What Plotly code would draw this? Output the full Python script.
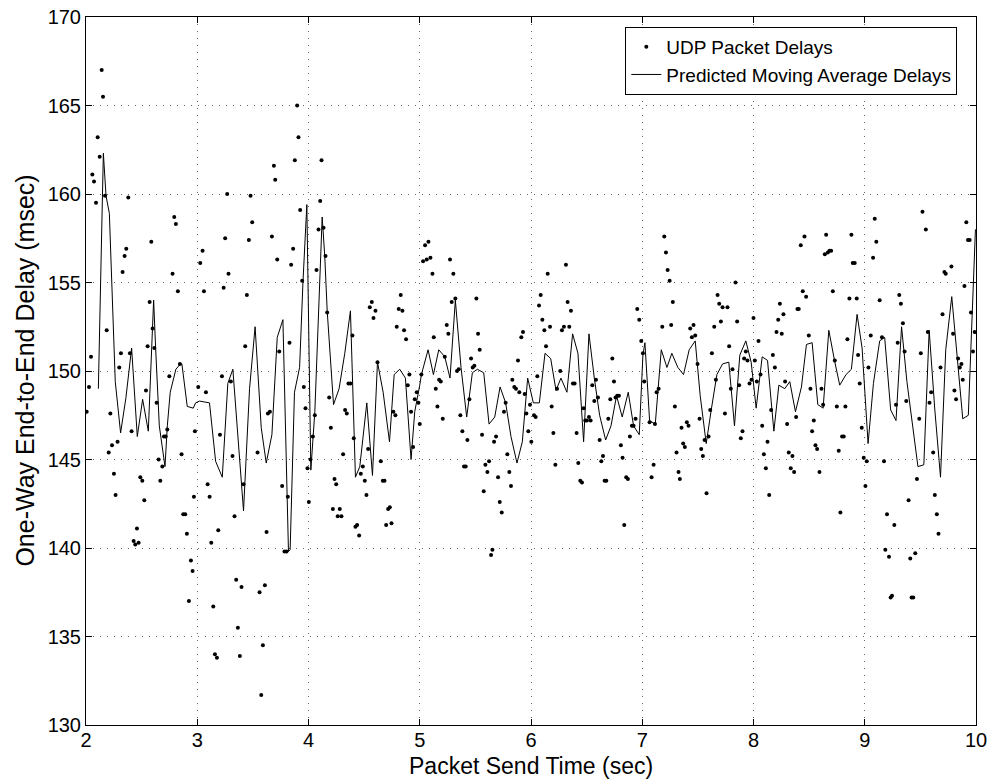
import plotly.graph_objects as go

# UDP packet delays (time sec, delay msec)
dot_t = [2.006,2.027,2.045,2.057,2.072,2.09,2.105,2.123,2.141,2.153,2.171,2.186,2.204,2.219,2.234,2.251,2.266,2.284,2.299,2.314,2.329,2.347,2.362,2.380,2.395,2.410,2.428,2.443,2.458,2.473,2.488,2.506,2.524,2.539,2.554,2.572,2.587,2.599,2.614,2.635,2.653,2.668,2.686,2.701,2.716,2.731,2.749,2.778,2.793,2.808,2.826,2.844,2.859,2.874,2.892,2.907,2.925,2.943,2.958,2.970,2.979,
         3.009,3.027,3.048,3.06,3.078,3.093,3.111,3.126,3.144,3.159,3.177,3.189,3.204,3.222,3.237,3.251,3.269,3.281,3.302,3.317,3.335,3.350,3.365,3.383,3.398,3.416,3.431,3.446,3.464,3.479,3.494,3.542,3.560,3.575,3.590,3.608,3.623,3.635,3.653,3.671,3.689,3.701,3.719,3.737,3.763,3.784,3.802,3.814,3.829,3.844,3.862,3.877,3.898,3.910,3.925,3.943,3.958,3.973,3.991,
         4.003,4.018,4.039,4.057,4.072,4.09,4.105,4.117,4.135,4.153,4.168,4.186,4.201,4.219,4.234,4.249,4.263,4.281,4.296,4.311,4.329,4.344,4.359,4.377,4.395,4.407,4.422,4.437,4.455,4.47,4.488,4.506,4.521,4.536,4.551,4.569,4.584,4.602,4.620,4.65,4.668,4.683,4.698,4.716,4.731,4.746,4.763,4.781,4.793,4.811,4.829,4.844,4.859,4.877,4.892,4.907,4.922,4.940,4.955,4.973,4.988,
         5.0,5.015,5.03,5.048,5.063,5.078,5.096,5.114,5.126,5.144,5.159,5.174,5.189,5.207,5.225,5.243,5.257,5.272,5.287,5.302,5.320,5.335,5.350,5.365,5.383,5.398,5.413,5.428,5.446,5.461,5.476,5.491,5.509,5.524,5.539,5.560,5.575,5.590,5.608,5.623,5.641,5.653,5.668,5.686,5.704,5.719,5.737,5.757,5.772,5.787,5.805,5.820,5.832,5.850,5.865,5.883,5.895,5.913,5.928,5.943,5.958,5.976,5.991,6.003,
         6.027,6.042,6.057,6.072,6.087,6.102,6.120,6.135,6.150,6.171,6.186,6.201,6.219,6.234,6.263,6.278,6.296,6.314,6.329,6.344,6.359,6.377,6.392,6.410,6.425,6.443,6.458,6.473,6.488,6.503,6.521,6.536,6.551,6.569,6.584,6.602,6.617,6.632,6.647,6.662,6.677,6.695,6.713,6.731,6.746,6.760,6.775,6.790,6.808,6.823,6.838,6.856,6.871,6.889,6.907,6.922,6.940,6.955,6.973,6.991,7.006,
         7.018,7.066,7.084,7.102,7.114,7.129,7.147,7.180,7.198,7.213,7.228,7.246,7.260,7.275,7.293,7.308,7.326,7.338,7.353,7.368,7.383,7.401,7.416,7.431,7.446,7.461,7.476,7.497,7.515,7.530,7.545,7.560,7.578,7.596,7.611,7.626,7.647,7.662,7.677,7.692,7.707,7.722,7.743,7.766,7.781,7.796,7.811,7.838,7.853,7.871,7.886,7.901,7.916,7.931,7.946,7.964,7.982,8.0,
         8.012,8.030,8.045,8.063,8.078,8.093,8.111,8.126,8.141,8.159,8.174,8.192,8.207,8.222,8.237,8.254,8.269,8.284,8.302,8.317,8.335,8.350,8.365,8.383,8.395,8.407,8.425,8.443,8.458,8.473,8.497,8.512,8.527,8.542,8.557,8.572,8.593,8.611,8.626,8.641,8.653,8.668,8.683,8.698,8.713,8.731,8.749,8.766,8.781,8.796,8.811,8.826,8.844,8.862,8.880,8.892,8.910,8.928,8.940,8.955,8.973,8.991,9.006,
         9.018,9.033,9.054,9.075,9.090,9.104,9.134,9.155,9.173,9.185,9.200,9.218,9.233,9.245,9.266,9.281,9.296,9.310,9.325,9.343,9.358,9.373,9.394,9.409,9.421,9.436,9.454,9.469,9.490,9.504,9.519,9.549,9.567,9.582,9.597,9.615,9.630,9.648,9.663,9.681,9.699,9.716,9.728,9.779,9.794,9.806,9.821,9.839,9.854,9.869,9.881,9.896,9.913,9.928,9.943,9.955,9.973,9.988]
dot_v = [147.7,149.1,150.8,161.1,160.7,159.5,163.2,162.1,167.0,165.5,159.9,152.3,145.4,147.6,145.8,144.2,143.0,146.0,150.2,151.0,155.6,156.5,156.9,159.8,151.0,146.6,140.4,140.2,141.1,140.3,144.0,143.8,142.7,148.9,151.4,153.9,157.3,152.4,151.3,148.2,145.0,143.8,144.6,146.3,146.3,146.7,149.7,155.5,158.7,158.3,154.5,150.4,145.3,141.9,141.9,140.8,137.0,139.3,138.7,142.9,146.6,
         149.1,156.1,156.8,154.5,148.8,143.6,142.9,140.3,136.7,134.0,133.8,141.0,146.4,149.7,154.7,157.5,160.0,155.5,149.4,145.2,141.8,138.2,135.5,133.9,137.8,143.6,151.4,154.3,157.4,159.9,158.4,145.4,137.5,131.7,134.5,137.9,140.9,147.6,147.7,157.6,161.6,160.8,156.3,151.1,143.5,139.8,139.8,142.9,151.6,156.0,156.9,161.9,165.0,163.2,159.1,155.1,149.1,147.9,144.5,
         142.6,145.0,146.3,147.5,155.7,158.0,159.6,161.9,158.1,156.5,153.3,148.5,146.8,142.2,143.9,143.6,141.8,142.2,141.8,145.3,147.8,147.6,149.3,149.3,152.0,146.2,141.2,141.3,140.7,144.2,144.6,143.8,143.0,145.6,153.6,153.9,153.0,153.4,150.5,144.9,143.8,143.8,141.3,142.2,142.3,141.4,147.7,147.5,152.5,153.5,154.3,153.4,152.3,151.8,149.2,149.8,147.7,145.7,148.4,148.8,148.2,
         147.0,149.8,156.2,157.1,156.3,157.3,156.4,155.5,151.9,149.0,148.0,149.5,149.4,147.3,150.8,152.6,152.1,156.3,153.9,155.5,154.1,150.0,150.1,147.5,146.6,144.6,144.6,146.1,148.4,150.7,150.2,150.3,154.1,152.1,151.2,146.4,143.2,144.7,144.3,144.9,139.6,139.9,146.0,146.3,144.0,142.6,142.0,147.7,148.2,145.3,144.3,143.5,149.5,149.1,149.0,150.6,148.8,151.9,152.2,148.7,147.6,146.6,148.1,146.0,
         147.5,147.4,149.7,153.7,154.3,152.9,152.3,151.4,155.5,152.5,148.0,146.5,144.7,149.0,150.0,152.3,152.5,156.0,153.9,152.5,153.4,149.3,149.3,146.5,144.8,143.8,143.7,147.9,147.2,147.2,147.4,147.2,149.2,148.3,149.5,148.5,146.1,144.9,145.2,143.8,143.8,147.3,148.4,150.7,149.4,148.5,148.6,148.6,145.8,145.1,141.3,144.0,143.9,146.3,146.9,146.9,147.3,153.5,152.9,151.7,151.0,
         149.4,147.1,144.0,144.7,147.0,148.8,149.0,152.5,157.6,156.7,155.7,155.1,152.6,153.9,148.0,145.4,144.3,143.9,146.8,145.9,145.7,147.1,146.9,152.4,151.9,152.6,152.0,150.4,147.3,145.6,145.2,146.1,143.1,146.3,147.8,151.0,152.5,149.5,154.3,153.8,152.8,153.6,147.6,153.6,151.4,149.0,150.1,155.0,152.8,149.2,146.2,146.6,150.7,151.1,150.6,149.3,149.5,153.0,
         150.6,149.4,151.7,149.8,146.9,145.3,144.5,146.0,143.0,147.8,150.9,150.2,152.2,152.9,153.8,152.1,153.2,149.4,147.0,145.4,144.5,145.2,144.3,147.4,153.5,153.5,157.1,154.5,157.6,154.2,152.0,149.0,146.6,147.2,145.8,145.6,144.3,149.0,148.1,156.6,157.7,156.7,156.8,156.8,154.5,150.6,148.0,145.5,142.0,146.3,146.3,148.0,151.8,154.1,157.7,156.1,156.1,154.1,150.9,149.3,146.8,145.1,143.5,
         144.9,150.2,152.0,156.4,158.6,157.3,154.0,151.9,144.9,139.9,141.9,139.5,137.2,137.3,141.3,148.1,151.6,154.3,153.8,152.7,151.1,148.3,142.7,139.4,137.2,137.2,139.7,143.9,147.3,151.0,159.0,158.0,152.2,148.2,148.8,145.4,143.0,141.9,140.8,150.2,153.2,155.6,155.5,155.9,152.1,148.9,148.4,150.7,150.2,150.4,149.5,154.8,158.4,157.4,157.4,153.3,151.1,152.2]

# Predicted moving average delays
line_t = [2.111,2.156,2.180,2.210,2.263,2.311,2.359,2.410,2.461,2.509,2.560,2.608,2.626,2.659,2.710,2.731,2.757,2.808,2.850,2.862,2.910,2.964,
          2.985,3.02,3.11,3.165,3.225,3.275,3.32,3.416,3.47,3.52,3.575,3.62,3.671,3.719,3.77,3.82,3.835,3.874,3.92,3.95,3.985,
          4.021,4.057,4.123,4.146,4.168,4.225,4.275,4.326,4.377,4.422,4.461,4.524,4.575,4.620,4.671,4.728,4.770,4.82,4.871,4.922,4.955,
          5.0,5.015,5.075,5.123,5.171,5.225,5.272,5.320,5.371,5.422,5.473,5.518,5.575,5.623,5.674,5.722,5.772,5.820,5.874,5.922,5.970,
          6.021,6.075,6.126,6.177,6.225,6.269,6.323,6.374,6.422,6.473,6.521,6.569,6.617,6.671,6.719,6.769,6.820,6.874,6.922,6.973,
          7.006,7.024,7.066,7.117,7.171,7.222,7.266,7.320,7.371,7.422,7.476,7.521,7.575,7.620,7.671,7.722,7.778,7.829,7.877,7.931,7.979,
          8.024,8.078,8.126,8.183,8.228,8.281,8.326,8.377,8.431,8.476,8.527,8.578,8.626,8.677,8.728,8.775,8.832,8.880,8.931,8.976,
          9.030,9.078,9.134,9.179,9.233,9.281,9.331,9.379,9.478,9.531,9.579,9.630,9.681,9.728,9.782,9.833,9.881,9.931,9.979,9.995]
line_v = [149.0,162.3,159.9,158.9,149.4,146.5,148.5,151.3,146.3,148.4,146.6,154.0,151.3,146.9,144.6,146.9,148.8,150.1,150.4,150.4,148.0,147.9,
          148.2,148.3,148.2,144.9,144.0,149.3,150.1,142.1,149.0,152.5,146.8,144.8,146.4,151.9,152.9,139.8,139.9,148.8,150.2,155.0,159.4,
          144.4,147.7,158.7,156.5,153.4,148.1,149.0,151.0,153.4,144.0,144.6,148.2,144.1,150.5,148.8,146.0,149.8,150.1,149.6,145.0,147.7,
          149.2,149.8,151.2,149.8,151.2,150.8,149.6,154.0,150.2,147.4,149.9,150.1,149.9,147.0,147.4,149.1,148.2,146.3,144.8,146.0,149.6,
          148.2,148.2,151.0,150.7,148.9,149.6,148.8,152.1,151.0,146.0,152.1,149.6,147.5,146.1,146.9,148.6,147.4,148.8,146.9,146.4,
          150.9,151.6,147.2,147.0,151.2,150.2,151.0,150.2,149.8,151.2,151.7,148.6,145.9,147.8,149.8,150.4,150.5,146.9,150.9,151.7,150.5,
          147.9,150.8,150.6,146.6,149.2,149.0,149.4,147.7,149.1,151.5,151.6,148.1,147.9,152.3,150.6,149.2,149.8,150.1,153.2,151.3,
          145.9,149.3,151.7,151.9,147.8,147.2,152.5,149.4,144.6,144.7,152.3,147.8,144.0,151.2,154.2,150.4,147.3,147.5,155.1,158.0]

x_ticks = [2, 3, 4, 5, 6, 7, 8, 9, 10]
y_ticks = [130, 135, 140, 145, 150, 155, 160, 165, 170]

FONT = "Liberation Sans, Arial, Helvetica, sans-serif"

fig = go.Figure()
fig.add_trace(go.Scatter(
    x=dot_t, y=dot_v, mode="markers", name="UDP Packet Delays",
    marker=dict(color="black", size=4, symbol="circle"),
))
fig.add_trace(go.Scatter(
    x=line_t, y=line_v, mode="lines", name="Predicted Moving Average Delays",
    line=dict(color="black", width=1),
))

axis_common = dict(
    showgrid=True, gridcolor="#666666", griddash="1px,6px", gridwidth=1,
    showline=True, linecolor="black", linewidth=1, mirror="ticks",
    ticks="inside", ticklen=6, tickcolor="black",
    tickfont=dict(family=FONT, size=20, color="black"),
    zeroline=False, automargin=False,
)

fig.update_layout(
    width=993, height=780,
    margin=dict(l=86, r=17, t=17, b=55),
    paper_bgcolor="white", plot_bgcolor="white",
    font=dict(family=FONT, color="black"),
    showlegend=True,
    legend=dict(
        x=0.979, y=0.986, xanchor="right", yanchor="top",
        bgcolor="white", bordercolor="black", borderwidth=1,
        font=dict(family=FONT, size=19, color="black"),
        tracegroupgap=0, itemsizing="trace",
    ),
    xaxis=dict(range=[2, 10], tickvals=x_ticks, ticktext=[str(v) for v in x_ticks],
               ticklabelstandoff=-3, **axis_common),
    yaxis=dict(range=[130, 170], tickvals=y_ticks, ticktext=[str(v) for v in y_ticks], **axis_common),
    annotations=[
        dict(text="Packet Send Time (sec)", xref="paper", yref="paper", x=0.5, y=-0.058,
             xanchor="center", yanchor="middle", showarrow=False,
             font=dict(family=FONT, size=23, color="black")),
        dict(text="One-Way End-to-End Delay (msec)", xref="paper", yref="paper", x=-0.069, y=0.5,
             xanchor="center", yanchor="middle", showarrow=False, textangle=-90,
             font=dict(family=FONT, size=25, color="black")),
    ],
)

fig.write_html("out.html")
